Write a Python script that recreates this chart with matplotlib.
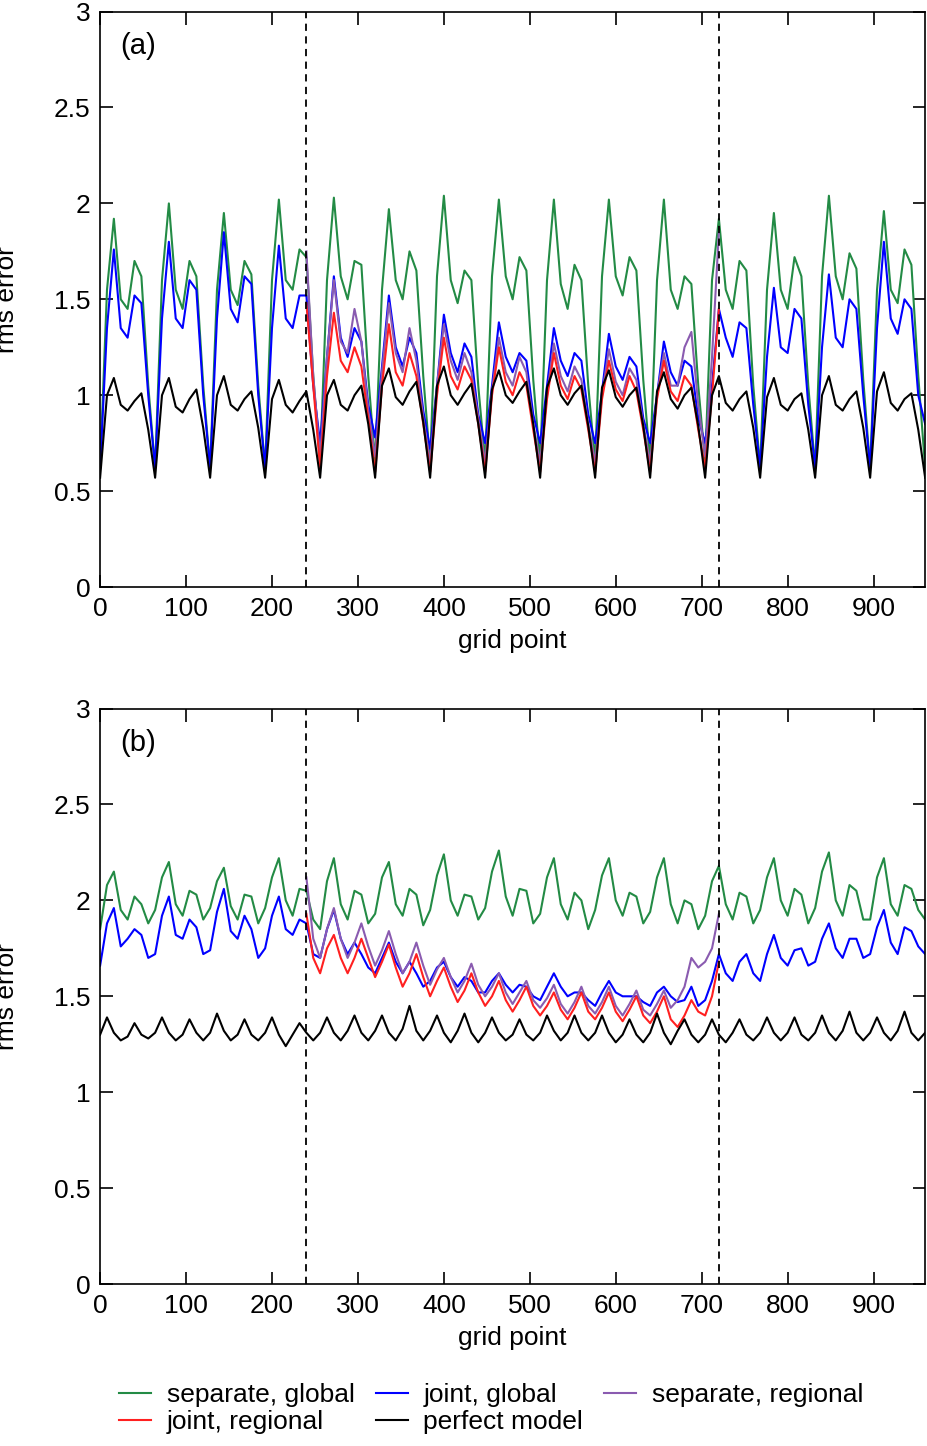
import numpy as np
import matplotlib
matplotlib.use("Agg")
import matplotlib.pyplot as plt

plt.rcParams["font.family"] = ["Liberation Sans", "DejaVu Sans"]
plt.rcParams["font.size"] = 15

# ---------------------------------------------------------------------------
# data, sampled every 8 grid points (read off the figure)
# ---------------------------------------------------------------------------
grid = np.arange(0, 961, 8)
grid_reg = np.arange(240, 721, 8)

a_perfect = [
    0.57, 1.00, 1.09, 0.95, 0.92, 0.97, 1.01, 0.82,
    0.57, 1.00, 1.09, 0.94, 0.91, 0.98, 1.03, 0.83,
    0.57, 1.00, 1.10, 0.95, 0.92, 0.98, 1.02, 0.83,
    0.57, 0.98, 1.08, 0.95, 0.91, 0.97, 1.02, 0.82,
    0.57, 1.00, 1.08, 0.95, 0.92, 1.00, 1.05, 0.85,
    0.57, 1.05, 1.14, 0.99, 0.95, 1.02, 1.07, 0.86,
    0.57, 1.05, 1.15, 1.00, 0.95, 1.01, 1.06, 0.85,
    0.57, 1.03, 1.13, 1.00, 0.96, 1.02, 1.07, 0.85,
    0.57, 1.04, 1.14, 1.00, 0.95, 1.01, 1.05, 0.84,
    0.57, 1.04, 1.13, 0.99, 0.94, 1.00, 1.04, 0.84,
    0.57, 1.02, 1.12, 0.98, 0.93, 1.00, 1.04, 0.84,
    0.57, 1.00, 1.10, 0.96, 0.92, 0.98, 1.02, 0.83,
    0.57, 0.99, 1.09, 0.95, 0.92, 0.98, 1.01, 0.82,
    0.57, 1.00, 1.10, 0.95, 0.92, 0.98, 1.02, 0.83,
    0.57, 1.02, 1.12, 0.96, 0.92, 0.98, 1.01, 0.82,
    0.57,
]
a_sep_global = [
    0.62, 1.55, 1.92, 1.50, 1.45, 1.70, 1.62, 1.05,
    0.62, 1.60, 2.00, 1.55, 1.45, 1.70, 1.62, 1.05,
    0.62, 1.55, 1.95, 1.55, 1.47, 1.70, 1.63, 1.05,
    0.62, 1.60, 2.02, 1.60, 1.55, 1.76, 1.72, 1.10,
    0.65, 1.60, 2.03, 1.62, 1.50, 1.70, 1.68, 1.10,
    0.65, 1.55, 1.97, 1.60, 1.50, 1.75, 1.65, 1.10,
    0.65, 1.62, 2.04, 1.60, 1.48, 1.65, 1.60, 1.05,
    0.65, 1.62, 2.02, 1.62, 1.50, 1.72, 1.65, 1.08,
    0.65, 1.60, 2.02, 1.58, 1.45, 1.68, 1.60, 1.05,
    0.65, 1.62, 2.02, 1.62, 1.52, 1.72, 1.65, 1.08,
    0.65, 1.60, 2.02, 1.55, 1.45, 1.62, 1.58, 1.05,
    0.65, 1.60, 1.92, 1.55, 1.45, 1.70, 1.65, 1.05,
    0.62, 1.55, 1.95, 1.55, 1.45, 1.72, 1.62, 1.05,
    0.62, 1.62, 2.04, 1.62, 1.50, 1.74, 1.66, 1.08,
    0.62, 1.55, 1.96, 1.55, 1.48, 1.76, 1.68, 1.10,
    0.62,
]
a_joint_global = [
    0.62, 1.35, 1.76, 1.35, 1.30, 1.52, 1.48, 1.00,
    0.62, 1.40, 1.80, 1.40, 1.35, 1.60, 1.55, 1.00,
    0.62, 1.40, 1.85, 1.45, 1.38, 1.62, 1.58, 1.00,
    0.62, 1.35, 1.78, 1.40, 1.35, 1.52, 1.52, 1.05,
    0.75, 1.20, 1.62, 1.30, 1.20, 1.35, 1.28, 0.95,
    0.78, 1.15, 1.52, 1.25, 1.15, 1.30, 1.22, 0.92,
    0.72, 1.05, 1.42, 1.22, 1.12, 1.27, 1.20, 0.90,
    0.75, 1.05, 1.38, 1.20, 1.12, 1.22, 1.18, 0.90,
    0.75, 1.05, 1.35, 1.18, 1.10, 1.22, 1.18, 0.90,
    0.75, 1.02, 1.32, 1.15, 1.08, 1.20, 1.15, 0.88,
    0.75, 1.00, 1.28, 1.12, 1.05, 1.18, 1.15, 0.88,
    0.75, 1.05, 1.45, 1.30, 1.20, 1.38, 1.35, 0.95,
    0.62, 1.20, 1.56, 1.25, 1.22, 1.45, 1.40, 0.95,
    0.62, 1.25, 1.63, 1.30, 1.25, 1.50, 1.45, 1.00,
    0.62, 1.35, 1.80, 1.40, 1.32, 1.50, 1.45, 1.00,
    0.85,
]
a_joint_regional = [
    1.48, 1.05,
    0.62, 1.10, 1.43, 1.18, 1.12, 1.25, 1.15, 0.88,
    0.60, 1.05, 1.37, 1.12, 1.05, 1.22, 1.10, 0.85,
    0.60, 1.00, 1.30, 1.10, 1.03, 1.15, 1.08, 0.85,
    0.60, 1.00, 1.25, 1.07, 1.00, 1.12, 1.05, 0.82,
    0.60, 0.98, 1.22, 1.05, 0.98, 1.10, 1.03, 0.82,
    0.60, 0.98, 1.18, 1.03, 0.97, 1.10, 1.02, 0.82,
    0.60, 0.98, 1.18, 1.02, 0.97, 1.10, 1.05, 0.82,
    0.62, 1.00, 1.45,
]
a_sep_regional = [
    1.75, 1.10,
    0.68, 1.20, 1.60, 1.28, 1.22, 1.45, 1.28, 0.92,
    0.68, 1.12, 1.48, 1.22, 1.12, 1.35, 1.18, 0.88,
    0.65, 1.05, 1.37, 1.18, 1.08, 1.22, 1.12, 0.88,
    0.65, 1.02, 1.30, 1.12, 1.05, 1.20, 1.12, 0.85,
    0.65, 1.00, 1.27, 1.10, 1.02, 1.15, 1.08, 0.85,
    0.65, 1.00, 1.24, 1.07, 1.00, 1.14, 1.08, 0.85,
    0.65, 1.00, 1.22, 1.05, 1.05, 1.25, 1.33, 0.95,
    0.68, 1.20, 1.85,
]

b_perfect = [
    1.30, 1.39, 1.31, 1.27, 1.29, 1.36, 1.30, 1.28,
    1.31, 1.39, 1.31, 1.27, 1.30, 1.38, 1.31, 1.27,
    1.31, 1.41, 1.32, 1.27, 1.30, 1.38, 1.30, 1.27,
    1.31, 1.39, 1.30, 1.24, 1.30, 1.36, 1.31, 1.27,
    1.31, 1.39, 1.31, 1.27, 1.32, 1.40, 1.31, 1.27,
    1.32, 1.40, 1.31, 1.27, 1.33, 1.45, 1.32, 1.27,
    1.32, 1.40, 1.31, 1.26, 1.32, 1.41, 1.31, 1.26,
    1.31, 1.39, 1.31, 1.27, 1.30, 1.38, 1.30, 1.27,
    1.31, 1.40, 1.32, 1.27, 1.31, 1.40, 1.31, 1.27,
    1.31, 1.40, 1.31, 1.26, 1.30, 1.38, 1.30, 1.26,
    1.31, 1.41, 1.31, 1.25, 1.32, 1.38, 1.30, 1.26,
    1.30, 1.38, 1.30, 1.26, 1.31, 1.38, 1.30, 1.27,
    1.31, 1.39, 1.31, 1.27, 1.31, 1.39, 1.30, 1.27,
    1.31, 1.40, 1.31, 1.27, 1.32, 1.42, 1.31, 1.27,
    1.31, 1.39, 1.31, 1.27, 1.32, 1.42, 1.31, 1.27,
    1.31,
]
b_sep_global = [
    1.85, 2.08, 2.15, 1.95, 1.90, 2.02, 1.98, 1.88,
    1.95, 2.12, 2.20, 1.98, 1.92, 2.05, 2.03, 1.90,
    1.96, 2.10, 2.17, 1.97, 1.90, 2.03, 2.02, 1.88,
    1.96, 2.12, 2.22, 2.00, 1.92, 2.06, 2.05, 1.90,
    1.85, 2.10, 2.22, 1.98, 1.90, 2.05, 2.03, 1.88,
    1.93, 2.12, 2.20, 1.98, 1.92, 2.06, 2.03, 1.87,
    1.95, 2.13, 2.24, 2.00, 1.92, 2.03, 2.02, 1.90,
    1.96, 2.15, 2.26, 2.02, 1.92, 2.06, 2.05, 1.88,
    1.93, 2.12, 2.22, 1.98, 1.90, 2.04, 2.00, 1.85,
    1.95, 2.13, 2.22, 2.00, 1.92, 2.04, 2.02, 1.88,
    1.94, 2.12, 2.22, 1.98, 1.88, 2.00, 1.98, 1.85,
    1.92, 2.10, 2.18, 1.98, 1.90, 2.04, 2.02, 1.88,
    1.95, 2.12, 2.22, 2.00, 1.92, 2.06, 2.03, 1.88,
    1.96, 2.15, 2.25, 2.00, 1.92, 2.08, 2.05, 1.90,
    1.90, 2.12, 2.22, 1.98, 1.92, 2.08, 2.06, 1.95,
    1.90,
]
b_joint_global = [
    1.66, 1.88, 1.96, 1.76, 1.80, 1.85, 1.82, 1.70,
    1.72, 1.92, 2.02, 1.82, 1.80, 1.90, 1.86, 1.72,
    1.74, 1.94, 2.06, 1.84, 1.80, 1.92, 1.85, 1.70,
    1.75, 1.92, 2.02, 1.85, 1.82, 1.90, 1.88, 1.72,
    1.70, 1.85, 1.95, 1.80, 1.72, 1.78, 1.72, 1.65,
    1.62, 1.70, 1.78, 1.68, 1.62, 1.68, 1.62, 1.55,
    1.58, 1.65, 1.68, 1.60, 1.55, 1.60, 1.58, 1.52,
    1.52, 1.58, 1.62, 1.56, 1.52, 1.56, 1.55, 1.50,
    1.48, 1.55, 1.62, 1.55, 1.50, 1.52, 1.52, 1.48,
    1.45, 1.52, 1.58, 1.52, 1.50, 1.50, 1.50, 1.47,
    1.45, 1.52, 1.55, 1.50, 1.47, 1.48, 1.55, 1.45,
    1.48, 1.58, 1.72, 1.62, 1.58, 1.68, 1.72, 1.62,
    1.58, 1.72, 1.82, 1.70, 1.66, 1.74, 1.75, 1.66,
    1.68, 1.80, 1.88, 1.75, 1.70, 1.80, 1.80, 1.70,
    1.72, 1.86, 1.95, 1.78, 1.72, 1.86, 1.84, 1.76,
    1.72,
]
b_joint_regional = [
    1.93, 1.70,
    1.62, 1.75, 1.82, 1.70, 1.62, 1.70, 1.80, 1.70,
    1.60, 1.68, 1.77, 1.65, 1.55, 1.62, 1.72, 1.60,
    1.50, 1.58, 1.65, 1.55, 1.47, 1.53, 1.62, 1.52,
    1.45, 1.50, 1.58, 1.48, 1.42, 1.48, 1.55, 1.45,
    1.40, 1.45, 1.52, 1.43, 1.38, 1.44, 1.52, 1.42,
    1.38, 1.44, 1.52, 1.42, 1.37, 1.43, 1.50, 1.40,
    1.36, 1.42, 1.50, 1.38, 1.34, 1.40, 1.48, 1.42,
    1.40, 1.50, 1.68,
]
b_sep_regional = [
    2.12, 1.80,
    1.70, 1.85, 1.96, 1.80, 1.70, 1.78, 1.88, 1.76,
    1.66, 1.74, 1.84, 1.72, 1.62, 1.68, 1.78, 1.66,
    1.56, 1.64, 1.70, 1.60, 1.52, 1.58, 1.67, 1.56,
    1.50, 1.55, 1.62, 1.52, 1.46, 1.52, 1.58, 1.48,
    1.44, 1.49, 1.56, 1.46, 1.41, 1.47, 1.55, 1.45,
    1.41, 1.47, 1.55, 1.45, 1.40, 1.46, 1.53, 1.43,
    1.40, 1.46, 1.53, 1.44, 1.48, 1.55, 1.70, 1.65,
    1.68, 1.75, 1.93,
]

panels = [
    ("(a)", a_sep_global, a_joint_global, a_sep_regional, a_joint_regional, a_perfect),
    ("(b)", b_sep_global, b_joint_global, b_sep_regional, b_joint_regional, b_perfect),
]

fig = plt.figure(figsize=(9.27, 14.46), dpi=100)
rects = [[0.108, 0.594, 0.890, 0.398], [0.108, 0.112, 0.890, 0.398]]

handles = None
for rect, (tag, sg, jg, sr, jr, pm) in zip(rects, panels):
    ax = fig.add_axes(rect)
    h1, = ax.plot(grid, sg, color="#238b45", lw=1.5, label="separate, global")
    h2, = ax.plot(grid, jg, color="#0000ff", lw=1.5, label="joint, global")
    h3, = ax.plot(grid_reg, sr, color="#8a5bb0", lw=1.5, label="separate, regional")
    h4, = ax.plot(grid_reg, jr, color="#ff2020", lw=1.5, label="joint, regional")
    h5, = ax.plot(grid, pm, color="black", lw=1.5, label="perfect model")
    handles = [h1, h4, h2, h5, h3]  # column-major fill -> row order as in figure
    for xv in (240, 720):
        ax.axvline(xv, color="black", ls=(0, (4, 3)), lw=1.3)
    ax.set_xlim(0, 960)
    ax.set_ylim(0, 3)
    ax.set_xticks(range(0, 901, 100))
    ax.set_yticks([0, 0.5, 1, 1.5, 2, 2.5, 3])
    ax.set_yticklabels(["0", "0.5", "1", "1.5", "2", "2.5", "3"])
    ax.tick_params(direction="in", top=True, right=True, length=9, width=1.2,
                   labelsize=19, pad=7)
    for s in ax.spines.values():
        s.set_linewidth(1.2)
    ax.set_xlabel("grid point", fontsize=19, labelpad=6)
    ax.set_ylabel("rms error", fontsize=19)
    ax.yaxis.set_label_coords(-0.098, 0.5)
    ax.text(0.025, 0.965, tag, transform=ax.transAxes, fontsize=21, va="top")

fig.legend(handles=handles, loc="lower center", ncol=3, frameon=False,
           fontsize=19, handlelength=1.2, handletextpad=0.6, columnspacing=0.8,
           labelspacing=0.1, bbox_to_anchor=(0.53, -0.008))

fig.savefig("out.png", dpi=100)
